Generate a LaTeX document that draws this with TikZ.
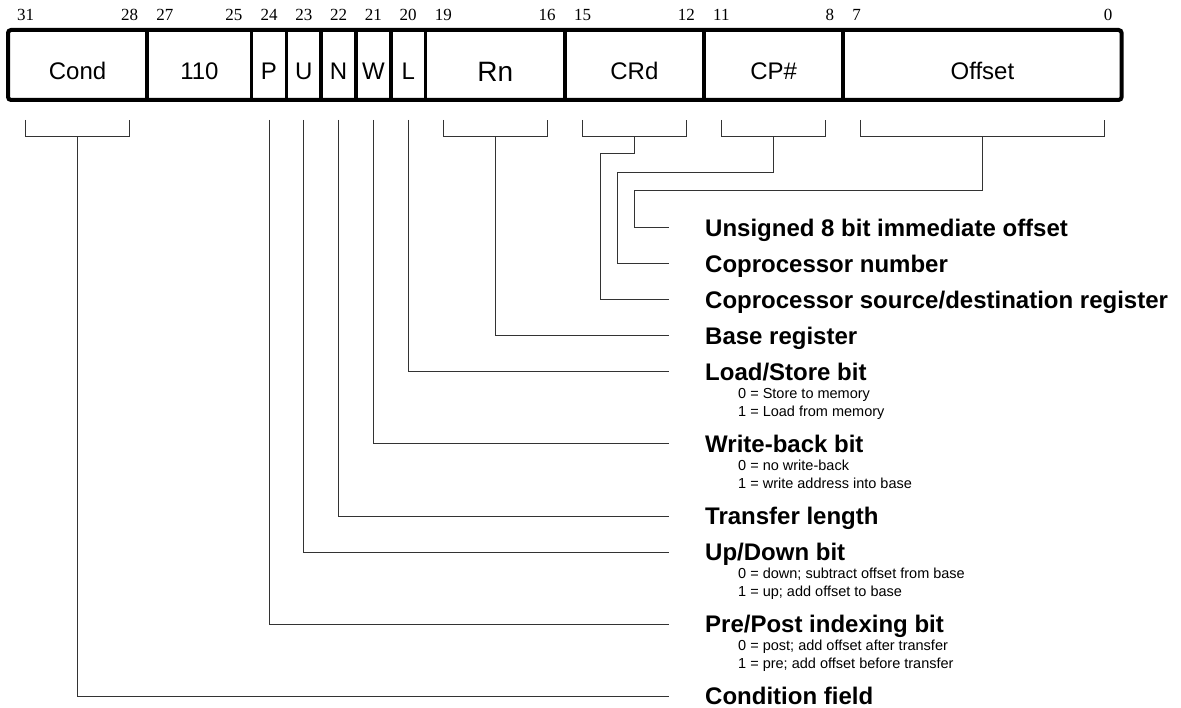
\documentclass[tikz,border=0pt]{standalone}
\usepackage{fontspec}
\setmainfont{Liberation Serif}
\setsansfont{Liberation Sans}
\begin{document}
\begin{tikzpicture}[x=1pt,y=-1pt,
  fld/.style={font=\sffamily\fontsize{24}{28}\selectfont,anchor=base,inner sep=0pt},
  bitno/.style={font=\fontsize{17}{20}\selectfont,anchor=base,inner sep=0pt},
  hdr/.style={font=\sffamily\bfseries\fontsize{24}{28}\selectfont,anchor=base west,inner sep=0pt},
  sub/.style={font=\sffamily\fontsize{14.5}{18}\selectfont,anchor=base west,inner sep=0pt},
  link/.style={line width=1pt,black!80}]
\useasboundingbox (0,0) rectangle (1181,708);
% instruction word
\draw[line width=4pt,rounded corners=3pt] (8,30) rectangle (1121.6,100);
\foreach \x in {147.2,251.6,286.4,321.2,356,390.8,425.6,564.8,704,843.2}
  \draw[line width=3.5pt] (\x,30)--(\x,100);
\node[fld] (cond) at (77.6,80) {Cond};
\node[fld] (ones) at (199.4,80) {110};
\node[fld] (pbit) at (269,80) {P};
\node[fld] (ubit) at (303.8,80) {U};
\node[fld] (nbit) at (338.6,80) {N};
\node[fld] (wbit) at (373.4,80) {W};
\node[fld] (lbit) at (408.2,80) {L};
\node[fld,font=\sffamily\fontsize{28}{32}\selectfont] (rn) at (495.2,82) {Rn};
\node[fld] (crd) at (634.4,80) {CRd};
\node[fld] (cpn) at (773.6,80) {CP\#};
\node[fld] (offs) at (982.4,80) {Offset};
% bit numbers
\foreach \b/\x in {31/8,27/147.2,19/425.6,15/564.8,11/704,7/843.2}
  \node[bitno,anchor=base west] (b\b) at (\x+9,21) {\b};
\foreach \b/\x in {28/147.2,25/251.6,16/564.8,12/704,8/843.2,0/1121.6}
  \node[bitno,anchor=base east] (b\b) at (\x-9,21) {\b};
\foreach \b/\x in {24/269,23/303.8,22/338.6,21/373.4,20/408.2}
  \node[bitno] (b\b) at (\x,21) {\b};
% brackets
\foreach \a/\c in {25.4/129.8,443/547.4,582.2/686.6,721.4/825.8,860.6/1104.2}
  \draw[link] (\a,120)--(\a,137)--(\c,137)--(\c,120);
\coordinate (s-cond) at (77.6,137);
\coordinate (s-p) at (269,120);
\coordinate (s-u) at (303.8,120);
\coordinate (s-n) at (338.6,120);
\coordinate (s-w) at (373.4,120);
\coordinate (s-l) at (408.2,120);
\coordinate (s-rn) at (495.2,137);
\coordinate (s-crd) at (634.4,137);
\coordinate (s-cpn) at (773.6,137);
\coordinate (s-off) at (982.4,137);
% line ends, one row each
\coordinate (r-off) at (669,228);
\coordinate (r-cpn) at (669,264);
\coordinate (r-crd) at (669,300);
\coordinate (r-rn) at (669,336);
\coordinate (r-l) at (669,372);
\coordinate (r-w) at (669,444);
\coordinate (r-n) at (669,516);
\coordinate (r-u) at (669,552);
\coordinate (r-p) at (669,624);
\coordinate (r-cond) at (669,696);
\draw[link] (s-off) |- (634.4,191) |- (r-off);
\draw[link] (s-cpn) |- (617,173) |- (r-cpn);
\draw[link] (s-crd) |- (600,154) |- (r-crd);
\draw[link] (s-rn) |- (r-rn);
\draw[link] (s-l) |- (r-l);
\draw[link] (s-w) |- (r-w);
\draw[link] (s-n) |- (r-n);
\draw[link] (s-u) |- (r-u);
\draw[link] (s-p) |- (r-p);
\draw[link] (s-cond) |- (r-cond);
% descriptions
\node[hdr] (h-off) at (705,236.5) {Unsigned 8 bit immediate offset};
\node[hdr] (h-cpn) at (705,272.5) {Coprocessor number};
\node[hdr] (h-crd) at (705,308.5) {Coprocessor source/destination register};
\node[hdr] (h-rn) at (705,344.5) {Base register};
\node[hdr] (h-l) at (705,380.5) {Load/Store bit};
\node[sub] (l0) at (738,398.5) {0 = Store to memory};
\node[sub] (l1) at (738,416.5) {1 = Load from memory};
\node[hdr] (h-w) at (705,452.5) {Write-back bit};
\node[sub] (w0) at (738,470.5) {0 = no write-back};
\node[sub] (w1) at (738,488.5) {1 = write address into base};
\node[hdr] (h-n) at (705,524.5) {Transfer length};
\node[hdr] (h-u) at (705,560.5) {Up/Down bit};
\node[sub] (u0) at (738,578.5) {0 = down; subtract offset from base};
\node[sub] (u1) at (738,596.5) {1 = up; add offset to base};
\node[hdr] (h-p) at (705,632.5) {Pre/Post indexing bit};
\node[sub] (p0) at (738,650.5) {0 = post; add offset after transfer};
\node[sub] (p1) at (738,668.5) {1 = pre; add offset before transfer};
\node[hdr] (h-cond) at (705,704.5) {Condition field};
\end{tikzpicture}
\end{document}
